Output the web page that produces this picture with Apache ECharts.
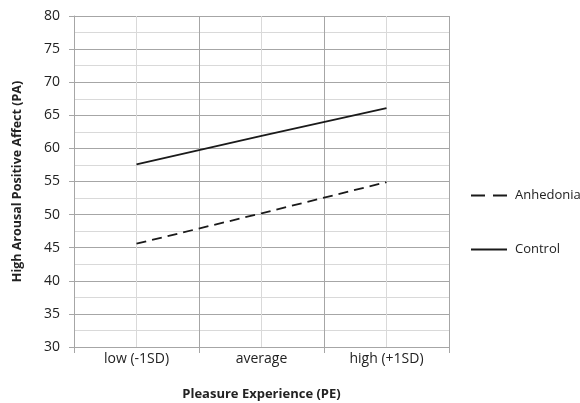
<!DOCTYPE html>
<html>
<head>
<meta charset="utf-8">
<script src="https://cdn.jsdelivr.net/npm/echarts@6/dist/echarts.min.js"></script>
<style>html,body{margin:0;padding:0;background:#fff}#c{width:580px;height:403px}</style>
</head>
<body>
<div id="c"></div>
<script>
var categories = ['low (-1SD)', 'average', 'high (+1SD)'];
var anhedonia = [45.6, 50.2, 54.9];
var control = [57.6, 61.9, 66.1];
var seriesNames = ['Anhedonia', 'Control'];

var FONT = '"Open Sans", "Liberation Sans", sans-serif';
var MAJOR = '#a6a6a6';
var MINOR = '#d9d9d9';

var chart = echarts.init(document.getElementById('c'));
chart.setOption({
  animation: false,
  backgroundColor: '#fff',
  grid: { left: 74, top: 16, width: 375, height: 331, containLabel: false, outerBoundsMode: 'none' },
  legend: {
    orient: 'vertical',
    left: 466,
    top: 184,
    itemWidth: 36,
    itemHeight: 2,
    itemGap: 41,
    textStyle: { fontFamily: FONT, fontSize: 13, color: '#222', padding: [0, 0, 0, 3] },
    data: [
      { name: seriesNames[0], icon: 'path://M0,0h14v2h-14z M22,0h14v2h-14z' },
      { name: seriesNames[1], icon: 'path://M0,0h36v2h-36z' }
    ]
  },
  xAxis: [
    {
      type: 'category',
      data: categories,
      boundaryGap: true,
      axisLine: { show: true, lineStyle: { color: MAJOR, width: 1 } },
      axisTick: { show: true, length: 6, lineStyle: { color: MAJOR } },
      axisLabel: { fontFamily: FONT, fontSize: 14, color: '#222', margin: 5 },
      splitLine: { show: false },
      name: 'Pleasure Experience (PE)',
      nameLocation: 'middle',
      nameGap: 41,
      nameTextStyle: { fontFamily: FONT, fontSize: 13, fontWeight: 'bold', color: '#222' }
    },
    {
      type: 'value',
      min: 0, max: 3, interval: 1,
      position: 'bottom',
      axisLine: { show: false },
      axisTick: { show: false },
      axisLabel: { show: false },
      splitLine: { show: true, lineStyle: { color: MAJOR, width: 1 } },
      minorTick: { show: false, splitNumber: 2 },
      minorSplitLine: { show: true, lineStyle: { color: MINOR, width: 1 } }
    }
  ],
  yAxis: {
    type: 'value',
    min: 30, max: 80, interval: 5,
    axisLine: { show: true, lineStyle: { color: MAJOR, width: 1 } },
    axisTick: { show: true, length: 5, lineStyle: { color: MAJOR } },
    axisLabel: { fontFamily: FONT, fontSize: 14, color: '#222', margin: 14 },
    splitLine: { show: true, lineStyle: { color: MAJOR, width: 1 } },
    minorTick: { show: false, splitNumber: 2 },
    minorSplitLine: { show: true, lineStyle: { color: MINOR, width: 1 } },
    name: 'High Arousal Positive Affect (PA)',
    nameLocation: 'middle',
    nameGap: 50,
    nameTextStyle: { fontFamily: FONT, fontSize: 12.5, fontWeight: 'bold', color: '#222' }
  },
  series: [
    {
      name: seriesNames[0],
      type: 'line',
      data: anhedonia,
      symbol: 'none',
      lineStyle: { color: '#1a1a1a', width: 1.8, type: [10, 6] },
      itemStyle: { color: '#1a1a1a' }
    },
    {
      name: seriesNames[1],
      type: 'line',
      data: control,
      symbol: 'none',
      lineStyle: { color: '#1a1a1a', width: 1.8 },
      itemStyle: { color: '#1a1a1a' }
    }
  ]
});
</script>
</body>
</html>
